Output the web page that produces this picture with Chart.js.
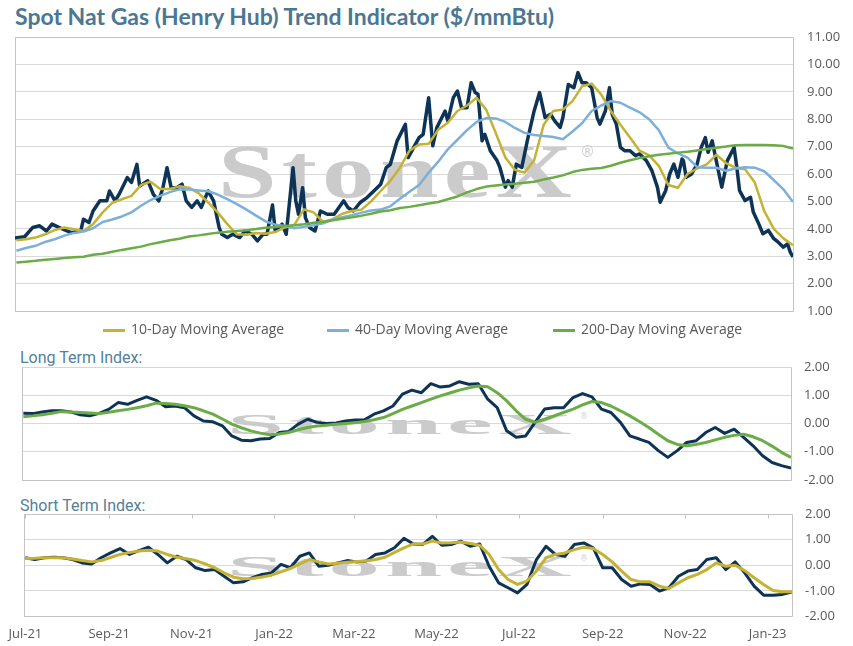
<!DOCTYPE html>
<html>
<head>
<meta charset="utf-8">
<script src="https://cdn.jsdelivr.net/npm/chart.js@4.4.1/dist/chart.umd.min.js"></script>
<style>
  body { margin: 0; background: #fff; }
  #page { position: relative; width: 853px; height: 646px; overflow: hidden; font-family: "Open Sans", sans-serif; }
  .title { position: absolute; left: 15px; top: 2px; font: bold 23px Lato, sans-serif; color: #4b7793; white-space: nowrap; }
  .sub { position: absolute; left: 20px; font: 16px Roboto, sans-serif; color: #55809a; white-space: nowrap; line-height: 20px; }
  canvas { position: absolute; left: 0; }
  .leg { position: absolute; top: 320px; font-size: 14px; color: #595959; line-height: 18px; white-space: nowrap; }
  .leg i { display: inline-block; width: 22px; height: 3px; vertical-align: middle; margin-right: 6px; }
</style>
</head>
<body>
<div id="page">
  <div class="title">Spot Nat Gas (Henry Hub) Trend Indicator ($/mmBtu)</div>
  <canvas id="top" width="853" height="300" style="top:20px"></canvas>
  <div class="leg" style="left:103px"><i style="background:#c5b235"></i>10-Day Moving Average</div>
  <div class="leg" style="left:327px"><i style="background:#7cb0da"></i>40-Day Moving Average</div>
  <div class="leg" style="left:553px"><i style="background:#6cac46"></i>200-Day Moving Average</div>
  <div class="sub" style="top:348px">Long Term Index:</div>
  <canvas id="long" width="853" height="135" style="top:355px"></canvas>
  <div class="sub" style="top:496px">Short Term Index:</div>
  <canvas id="short" width="853" height="146" style="top:500px"></canvas>
</div>
<script>
// x values are days since 1 Jul 2021
const tickDates = ['2021-07-01', '2021-09-01', '2021-11-01', '2022-01-01', '2022-03-01',
                   '2022-05-01', '2022-07-01', '2022-09-01', '2022-11-01', '2023-01-01'];
const tickLabels = ['Jul-21', 'Sep-21', 'Nov-21', 'Jan-22', 'Mar-22', 'May-22', 'Jul-22', 'Sep-22', 'Nov-22', 'Jan-23'];

// spot price
const spotDays = [-1, 6, 12, 17, 22, 26, 31, 37, 40, 47, 49, 53, 56, 61, 66, 68, 72, 75, 81, 84,
  88, 90, 96, 100, 104, 107, 110, 113, 117, 121, 124, 128, 132, 135, 140, 144, 148, 150, 154, 158,
  163, 167, 172, 176, 180, 183, 187, 189, 194, 197, 202, 204, 206, 209, 211, 214, 218, 222, 227, 232,
  239, 242, 246, 251, 256, 261, 266, 270, 273, 278, 284, 286, 290, 294, 297, 301,
  304, 307, 313, 315, 319, 322, 325, 329, 332, 335, 337, 340, 342, 346, 351, 353, 357, 359, 362, 365,
  369, 373, 378, 382, 386, 390, 393, 397, 399, 403, 407, 410, 413, 416, 420, 424, 426, 430, 433, 435,
  438, 441, 444, 448, 452, 455, 460, 464, 468, 470, 474, 477, 480, 483, 486, 487, 489, 493, 497, 500,
  503, 505, 508, 511, 515, 519, 524, 526, 528, 532, 536, 538, 542, 545, 549, 553, 556, 560, 563, 565, 567];
const spotPrice = [3.66, 3.71, 4.05, 4.11, 3.92, 4.17, 4.05, 3.92, 3.86, 3.92, 4.35, 4.23, 4.65, 5.02, 5.02, 5.38, 5.02, 5.26, 5.87, 5.69,
  6.35, 5.56, 5.75, 5.26, 5.02, 5.5, 6.23, 5.5, 5.5, 5.63, 5.02, 4.78, 5.02, 4.78, 5.38, 5.02, 4.05, 3.8, 3.68, 3.8,
  3.68, 3.92, 3.8, 3.56, 3.8, 3.8, 4.87, 3.92, 4.17, 3.8, 6.23, 5.02, 4.53, 5.5, 4.41, 4.05, 3.92, 4.65, 4.53, 4.53,
  5.02, 4.78, 4.65, 4.96, 5.14, 5.38, 5.63, 6.23, 6.35, 7.21, 7.81, 6.6, 6.96, 7.33, 7.45, 8.78,
  7.03, 7.7, 8.3, 7.94, 8.79, 9.03, 8.42, 8.42, 9.33, 8.97, 8.91, 7.21, 7.45, 6.85, 6.48, 6.24, 5.52, 5.76, 5.52, 6.36,
  6.24, 7.21, 8.3, 8.97, 8.06, 8.18, 7.94, 7.7, 8.06, 9.27, 9.15, 9.7, 9.33, 9.33, 9.15, 8.06, 7.82, 8.3, 9.15, 8.18,
  7.82, 6.97, 6.85, 6.85, 6.67, 6.73, 6.48, 6.12, 5.52, 4.97, 5.39, 6.0, 6.36, 5.88, 6.55, 6.48, 5.88, 6.0, 6.36, 6.97,
  7.33, 6.79, 7.21, 6.48, 5.52, 6.48, 6.97, 6.24, 5.39, 5.03, 5.15, 4.61, 4.18, 3.82, 3.94, 3.64, 3.52, 3.33, 3.45, 3.15, 2.97];

// weekly readings (one per week from 1 Jul 2021)
const ma10 = [3.58, 3.62, 3.68, 3.8, 3.95, 4.05, 3.98, 3.92, 4.17, 4.6,
  4.95, 5.08, 5.2, 5.6, 5.72, 5.45, 5.45, 5.55, 5.5, 5.3,
  4.96, 4.6, 4.17, 3.8, 3.78, 3.85, 3.82, 3.88, 4.05, 4.15,
  4.71, 4.6, 4.25, 4.35, 4.55, 4.65, 4.7, 5.0, 5.38, 5.75,
  6.23, 6.85, 7.08, 7.1, 7.62, 7.87, 8.3, 8.5, 8.78, 8.35,
  7.5, 6.6, 6.15, 6.05, 6.5, 7.8, 8.3, 8.35, 8.66, 9.2,
  9.3, 8.9, 8.3, 7.8, 7.33, 6.85, 6.68, 6.3, 5.6, 5.5,
  6.0, 6.2, 6.35, 6.7, 6.4, 6.23, 6.17, 5.7, 4.65, 4.0,
  3.65, 3.4];
const ma40 = [3.2, 3.3, 3.38, 3.52, 3.62, 3.75, 3.85, 3.9, 4.02, 4.25,
  4.34, 4.45, 4.6, 4.84, 5.05, 5.2, 5.34, 5.44, 5.43, 5.4,
  5.37, 5.25, 5.08, 4.9, 4.7, 4.48, 4.27, 4.15, 4.1, 4.02,
  4.07, 4.13, 4.2, 4.34, 4.42, 4.5, 4.59, 4.67, 4.7, 4.82,
  5.1, 5.35, 5.6, 6.05, 6.45, 6.9, 7.25, 7.6, 7.9, 8.04,
  8.03, 7.9, 7.68, 7.5, 7.42, 7.39, 7.35, 7.27, 7.55, 7.85,
  8.3, 8.5, 8.66, 8.6, 8.42, 8.25, 8.0, 7.6, 6.96, 6.75,
  6.6, 6.25, 6.23, 6.23, 6.12, 6.2, 6.25, 6.23, 6.1, 5.78,
  5.44, 4.98];
const ma200 = [2.77, 2.8, 2.83, 2.87, 2.9, 2.93, 2.96, 2.98, 3.05, 3.09,
  3.16, 3.23, 3.29, 3.35, 3.44, 3.51, 3.58, 3.64, 3.72, 3.76,
  3.81, 3.86, 3.89, 3.92, 3.95, 3.99, 4.04, 4.07, 4.1, 4.13,
  4.17, 4.22, 4.26, 4.31, 4.37, 4.42, 4.48, 4.55, 4.63, 4.68,
  4.76, 4.8, 4.86, 4.92, 4.98, 5.08, 5.18, 5.33, 5.45, 5.54,
  5.58, 5.62, 5.64, 5.68, 5.72, 5.8, 5.87, 5.95, 6.07, 6.15,
  6.19, 6.22, 6.3, 6.41, 6.5, 6.58, 6.65, 6.7, 6.74, 6.78,
  6.81, 6.86, 6.91, 6.96, 7.0, 7.05, 7.06, 7.06, 7.06, 7.05,
  7.02, 6.93];

const longIndex = [0.36, 0.35, 0.41, 0.45, 0.45, 0.41, 0.31, 0.27, 0.36, 0.5,
  0.74, 0.68, 0.82, 0.94, 0.82, 0.59, 0.62, 0.56, 0.27, 0.09,
  0.06, -0.08, -0.44, -0.59, -0.61, -0.55, -0.53, -0.32, -0.28, -0.02,
  0.15, 0.04, 0, 0.02, 0.09, 0.12, 0.13, 0.33, 0.45, 0.62,
  1.04, 1.18, 1.09, 1.41, 1.29, 1.33, 1.48, 1.39, 1.41, 0.86,
  0.56, -0.26, -0.49, -0.44, 0.04, 0.51, 0.56, 0.56, 0.92, 1.06,
  0.94, 0.51, 0.39, 0.04, -0.44, -0.55, -0.67, -0.96, -1.2, -0.96,
  -0.67, -0.61, -0.32, -0.14, -0.35, -0.2, -0.49, -0.79, -1.14, -1.38,
  -1.49, -1.58];
const longSignal = [0.24, 0.27, 0.31, 0.36, 0.42, 0.41, 0.39, 0.37, 0.35, 0.4,
  0.45, 0.5, 0.56, 0.63, 0.72, 0.71, 0.68, 0.63, 0.56, 0.45,
  0.33, 0.16, -0.02, -0.15, -0.26, -0.34, -0.4, -0.37, -0.32, -0.22,
  -0.14, -0.09, -0.06, -0.03, 0, 0.03, 0.07, 0.13, 0.21, 0.35,
  0.5, 0.62, 0.74, 0.86, 0.98, 1.08, 1.18, 1.26, 1.33, 1.3,
  1.09, 0.8, 0.45, 0.15, 0.04, 0.15, 0.27, 0.39, 0.51, 0.66,
  0.78, 0.74, 0.62, 0.45, 0.27, 0.07, -0.14, -0.38, -0.61, -0.74,
  -0.79, -0.74, -0.67, -0.58, -0.49, -0.42, -0.38, -0.47, -0.61, -0.8,
  -1.02, -1.2];

const shortIndex = [0.29, 0.22, 0.29, 0.31, 0.29, 0.22, 0.09, 0.05, 0.29, 0.48,
  0.65, 0.42, 0.57, 0.7, 0.42, 0.09, 0.35, 0.22, -0.1, -0.21,
  -0.17, -0.43, -0.69, -0.65, -0.49, -0.36, -0.3, 0.03, -0.1, 0.35,
  0.48, -0.04, 0, 0.09, 0.18, 0.13, 0.16, 0.42, 0.48, 0.68,
  1.05, 0.83, 0.81, 1.13, 0.78, 0.81, 0.94, 0.74, 0.83, -0.04,
  -0.69, -0.88, -1.08, -0.75, 0.22, 0.74, 0.42, 0.35, 0.81, 0.87,
  0.68, -0.1, -0.1, -0.56, -0.82, -0.73, -0.75, -1.01, -0.88, -0.43,
  -0.23, -0.17, 0.22, 0.29, -0.17, 0.13, -0.3, -0.82, -1.17, -1.17,
  -1.14, -1.04];
const shortSignal = [0.26, 0.27, 0.29, 0.29, 0.29, 0.24, 0.18, 0.13, 0.18, 0.3,
  0.42, 0.5, 0.55, 0.58, 0.55, 0.42, 0.31, 0.25, 0.18, 0.05,
  -0.1, -0.3, -0.47, -0.53, -0.52, -0.46, -0.39, -0.26, -0.13, 0.05,
  0.22, 0.13, 0.05, 0.08, 0.12, 0.14, 0.16, 0.22, 0.31, 0.5,
  0.68, 0.83, 0.83, 0.94, 0.87, 0.88, 0.91, 0.85, 0.78, 0.42,
  -0.17, -0.56, -0.75, -0.62, -0.23, 0.29, 0.42, 0.48, 0.61, 0.7,
  0.65, 0.42, 0.13, -0.23, -0.56, -0.65, -0.65, -0.82, -0.91, -0.69,
  -0.49, -0.36, -0.17, 0.09, -0.04, 0, -0.21, -0.49, -0.75, -0.99,
  -1.04, -1.04];

const NAVY = '#0d3357', GOLD = '#c5b235', BLUE = '#7cb0da', GREEN = '#6cac46';
const CLEAR = 'rgba(0,0,0,0)';

const dayZero = Date.parse('2021-07-01');
const tickDays = tickDates.map(s => Math.round((Date.parse(s) - dayZero) / 864e5));
const weekDays = ma10.map((_, i) => i * 7);
const pts = (xs, ys) => ys.map((y, i) => ({ x: xs[i], y: y }));

// plot frame + StoneX watermark
const framePlugin = {
  id: 'frame',
  beforeDatasetsDraw(chart) {
    const { ctx, chartArea: a } = chart;
    const wm = chart.options.plugins.frame;
    ctx.save();
    ctx.font = 'bold ' + wm.size + 'px "Liberation Serif", serif';
    ctx.letterSpacing = (wm.size * 0.05) + 'px';
    ctx.fillStyle = '#cbcbcb';
    ctx.textBaseline = 'alphabetic';
    const w = ctx.measureText('StoneX').width;
    ctx.translate(wm.x, wm.y);
    ctx.scale(wm.w / w, wm.sy);
    ctx.fillText('StoneX', 0, 0);
    ctx.restore();
    ctx.save();
    ctx.font = Math.round(wm.size * 0.2) + 'px "DejaVu Sans"';
    ctx.fillStyle = '#cfcfcf';
    ctx.fillText('\u00AE', wm.x + wm.w + 3, wm.y - wm.size * 0.52 * wm.sy);
    ctx.restore();

    const L = Math.round(a.left) + 0.5, T = Math.round(a.top) + 0.5;
    const R = Math.round(a.right) + 0.5, B = Math.round(a.bottom) + 0.5;
    ctx.save();
    ctx.strokeStyle = '#c3c3c3';
    ctx.lineWidth = 1;
    ctx.beginPath();
    ctx.moveTo(R, T); ctx.lineTo(R, B); ctx.lineTo(L, B); ctx.lineTo(L, T);
    ctx.stroke();
    ctx.beginPath();
    if (wm.dotTop) { ctx.setLineDash([1, 2]); ctx.strokeStyle = '#cfcfcf'; }
    ctx.moveTo(L, T); ctx.lineTo(R, T);
    ctx.stroke();
    ctx.setLineDash([]);
    if (wm.topTicks) {
      const xs = chart.scales.x;
      ctx.beginPath();
      xs.ticks.forEach(t => {
        const px = Math.round(xs.getPixelForValue(t.value)) + 0.5;
        ctx.moveTo(px, T); ctx.lineTo(px, T + 4);
      });
      ctx.stroke();
    }
    ctx.restore();
  }
};

function panel(id, datasets, o) {
  return new Chart(document.getElementById(id), {
    type: 'line',
    data: { datasets: datasets },
    options: {
      responsive: false,
      animation: false,
      layout: { padding: o.pad },
      plugins: { legend: { display: false }, tooltip: { enabled: false }, frame: o.wm },
      elements: { point: { radius: 0 }, line: { tension: 0, borderJoinStyle: 'round' } },
      scales: {
        x: {
          type: 'linear', min: -1, max: 567, display: o.showX,
          grid: { display: true, drawOnChartArea: false, drawTicks: true, tickLength: 10, tickColor: CLEAR },
          border: { display: false },
          afterBuildTicks: s => { s.ticks = tickDays.map(v => ({ value: v })); },
          ticks: {
            autoSkip: false, maxRotation: 0, padding: 0, color: '#595959',
            font: { family: 'Open Sans', size: 13 },
            callback: (v, i) => tickLabels[i]
          }
        },
        y: {
          position: 'right', min: o.min, max: o.max,
          afterFit: s => { s.width = o.axisW; },
          grid: { color: '#d9d9d9', drawTicks: true, tickLength: o.tickPad, tickColor: CLEAR },
          border: { display: false },
          ticks: {
            stepSize: 1, padding: 0, color: '#595959',
            font: { family: 'Open Sans', size: 13 },
            callback: v => Number(v).toFixed(2)
          }
        }
      }
    },
    plugins: [framePlugin]
  });
}

panel('top', [
  { data: pts(spotDays, spotPrice), borderColor: NAVY, borderWidth: 3.5, order: 4 },
  { data: pts(weekDays, ma10), borderColor: GOLD, borderWidth: 2.5, order: 3 },
  { data: pts(weekDays, ma40), borderColor: BLUE, borderWidth: 2.5, order: 2 },
  { data: pts(weekDays, ma200), borderColor: GREEN, borderWidth: 2.5, order: 1 }
], { pad: { left: 15, right: 0, top: 17, bottom: 9 }, min: 1, max: 11, axisW: 60, tickPad: 14, showX: false,
     wm: { x: 218, y: 177, size: 76, w: 359, sy: 1 } });

panel('long', [
  { data: pts(weekDays, longIndex), borderColor: NAVY, borderWidth: 3, order: 2 },
  { data: pts(weekDays, longSignal), borderColor: GREEN, borderWidth: 3, order: 1 }
], { pad: { left: 22, right: 0, top: 12, bottom: 10 }, min: -2, max: 2, axisW: 62, tickPad: 13, showX: false,
     wm: { x: 227, y: 79, size: 40, w: 350, sy: 0.72, dotTop: true } });

panel('short', [
  { data: pts(weekDays, shortIndex), borderColor: NAVY, borderWidth: 3, order: 2 },
  { data: pts(weekDays, shortSignal), borderColor: GOLD, borderWidth: 3, order: 1 }
], { pad: { left: 24, right: 0, top: 14, bottom: 4 }, min: -2, max: 2, axisW: 61, tickPad: 13, showX: true,
     wm: { x: 227, y: 76, size: 40, w: 350, sy: 0.72, topTicks: true } });
</script>
</body>
</html>
